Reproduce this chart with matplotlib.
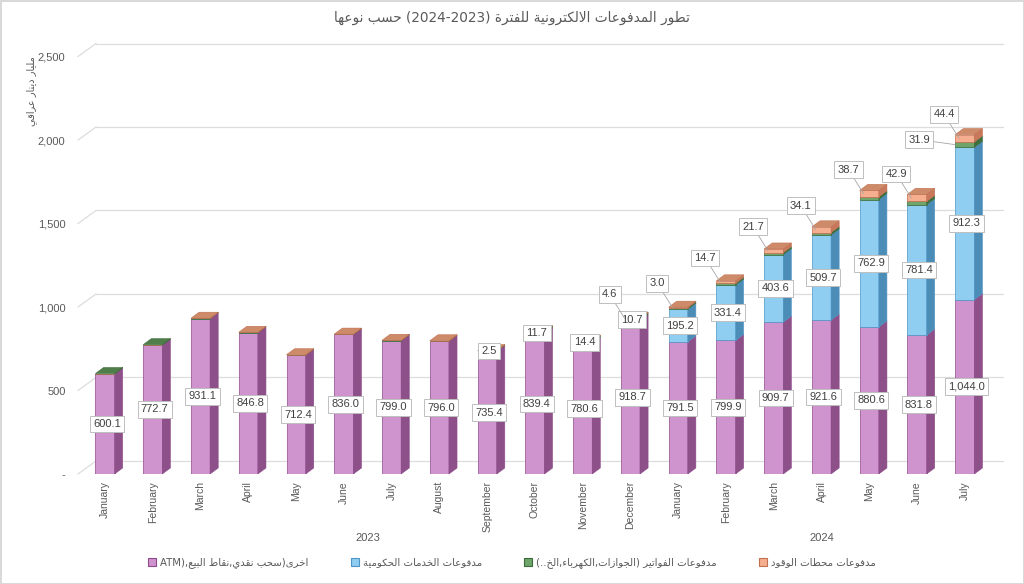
import re

import matplotlib
matplotlib.use("Agg")
import matplotlib.pyplot as plt
import matplotlib.transforms as mtransforms
import numpy as np
from matplotlib.patches import Patch, Polygon

# ---- data (billion IQD) ----
months = ["January", "February", "March", "April", "May", "June", "July",
          "August", "September", "October", "November", "December",
          "January", "February", "March", "April", "May", "June", "July"]
years = ["2023", "2024"]
year_spans = [(0, 11), (12, 18)]

other_atm = [600.1, 772.7, 931.1, 846.8, 712.4, 836.0, 799.0, 796.0, 735.4,
             839.4, 780.6, 918.7, 791.5, 799.9, 909.7, 921.6, 880.6, 831.8, 1044.0]
gov_services = [0.0, 0.0, 0.0, 0.0, 0.0, 0.0, 0.0, 0.0, 0.0, 0.0, 0.0, 0.0,
                195.2, 331.4, 403.6, 509.7, 762.9, 781.4, 912.3]
bills = [1.5, 1.8, 0.8, 0.8, 0.8, 0.8, 0.8, 0.8, 2.5, 11.7, 14.4, 10.7,
         9.2, 10.8, 12.5, 14.9, 16.3, 18.7, 31.9]
fuel = [0.0, 0.0, 1.0, 1.0, 1.0, 1.0, 1.0, 1.0, 1.0, 1.0, 1.0, 4.6,
        3.0, 14.7, 21.7, 34.1, 38.7, 42.9, 44.4]

title = "تطور المدفوعات الالكترونية للفترة (2023-2024) حسب نوعها"
ylabel = "مليار دينار عراقي"
legend_labels = ["اخرى(سحب نقدي,نقاط البيع,ATM)",
                 "مدفوعات الخدمات الحكومية",
                 "مدفوعات الفواتير (الجوازات,الكهرباء,الخ..)",
                 "مدفوعات محطات الوقود"]

# ---- minimal Arabic shaping + visual ordering (mpl has no bidi) ----
FORMS = {  # isolated, final, initial, medial
    "ا": (0xFE8D, 0xFE8E, None, None), "ب": (0xFE8F, 0xFE90, 0xFE91, 0xFE92),
    "ة": (0xFE93, 0xFE94, None, None), "ت": (0xFE95, 0xFE96, 0xFE97, 0xFE98),
    "ج": (0xFE9D, 0xFE9E, 0xFE9F, 0xFEA0), "ح": (0xFEA1, 0xFEA2, 0xFEA3, 0xFEA4),
    "خ": (0xFEA5, 0xFEA6, 0xFEA7, 0xFEA8), "د": (0xFEA9, 0xFEAA, None, None),
    "ر": (0xFEAD, 0xFEAE, None, None), "ز": (0xFEAF, 0xFEB0, None, None),
    "س": (0xFEB1, 0xFEB2, 0xFEB3, 0xFEB4), "ط": (0xFEC1, 0xFEC2, 0xFEC3, 0xFEC4),
    "ع": (0xFEC9, 0xFECA, 0xFECB, 0xFECC), "ف": (0xFED1, 0xFED2, 0xFED3, 0xFED4),
    "ق": (0xFED5, 0xFED6, 0xFED7, 0xFED8), "ك": (0xFED9, 0xFEDA, 0xFEDB, 0xFEDC),
    "ل": (0xFEDD, 0xFEDE, 0xFEDF, 0xFEE0), "م": (0xFEE1, 0xFEE2, 0xFEE3, 0xFEE4),
    "ن": (0xFEE5, 0xFEE6, 0xFEE7, 0xFEE8), "ه": (0xFEE9, 0xFEEA, 0xFEEB, 0xFEEC),
    "و": (0xFEED, 0xFEEE, None, None), "ى": (0xFEEF, 0xFEF0, None, None),
    "ي": (0xFEF1, 0xFEF2, 0xFEF3, 0xFEF4), "ء": (0xFE80, None, None, None),
}


def shape(s):
    toks, i = [], 0
    while i < len(s):
        if s[i] == "ل" and i + 1 < len(s) and s[i + 1] == "ا":
            toks.append("لا")
            i += 2
        else:
            toks.append(s[i])
            i += 1

    def joins_next(t):
        return t in FORMS and FORMS[t][2] is not None

    def joins_prev(t):
        return t == "لا" or (t in FORMS and FORMS[t][1] is not None)

    out = []
    for k, t in enumerate(toks):
        prv = toks[k - 1] if k > 0 else None
        nxt = toks[k + 1] if k + 1 < len(toks) else None
        p = prv is not None and joins_next(prv) and joins_prev(t)
        n = nxt is not None and joins_next(t) and joins_prev(nxt)
        if t == "لا":
            out.append(chr(0xFEFC if p else 0xFEFB))
        elif t in FORMS:
            iso, fin, ini, med = FORMS[t]
            c = med if (p and n) else fin if p else ini if n else iso
            out.append(chr(c))
        else:
            out.append(t)
    return "".join(out)


def ar(s):
    s = shape(s)
    runs = re.findall(r"[A-Za-z]+\)$|[A-Za-z0-9]+|[^A-Za-z0-9]+", s)
    mirror = str.maketrans("()", ")(")
    vis = []
    for r in reversed(runs):
        if re.match(r"[A-Za-z0-9]", r):
            vis.append(r)
        else:
            vis.append(r[::-1].translate(mirror))
    return "".join(vis)


AR_FONT = ["DejaVu Sans"]
TXT = "#595959"

# colours: front, side, top, edge
STYLE = [
    ("#CF93CD", "#8E5089", "#A8679F", "#8D4A8B"),
    ("#8FCDF1", "#4C8DB8", "#6AAFD8", "#4E95C6"),
    ("#6FA56B", "#3E6E3C", "#4F7E4B", "#3C6B3A"),
    ("#F6AE90", "#C8795C", "#CE8B6A", "#C0704F"),
]

series = [np.array(other_atm), np.array(gov_services), np.array(bills), np.array(fuel)]
x = np.arange(len(months))
w = 0.40          # bar front width
ddx, ddy = 0.17, 36   # bar depth (3D look)
gdx, gdy = 0.377, 78  # wall offset for gridlines

fig = plt.figure(figsize=(10.24, 5.84), dpi=100, facecolor="white",
                 edgecolor="#D9D9D9", linewidth=2)
ax = fig.add_axes([78 / 1024, (584 - 474) / 584, 925 / 1024, (474 - 41.5) / 584])
ax.set_xlim(-0.565, 18.8)
ax.set_ylim(0, 2590)
for s in ax.spines.values():
    s.set_visible(False)

# gridlines on the back wall with a slanted floor edge
yt = [0, 500, 1000, 1500, 2000, 2500]
x0, x1 = ax.get_xlim()
for v in yt:
    ax.plot([x0, x0 + gdx], [v, v + gdy], color="#DDDDDD", lw=0.9, clip_on=False, zorder=0)
    ax.plot([x0 + gdx, x1], [v + gdy, v + gdy], color="#DDDDDD", lw=0.9, clip_on=False, zorder=0)

# stacked bars
bottoms = np.zeros(len(x))
seg_bottoms = []
for vals, (front, side, top, edge) in zip(series, STYLE):
    seg_bottoms.append(bottoms.copy())
    ax.bar(x, vals, bottom=bottoms, width=w, color=front, edgecolor=edge,
           linewidth=0.5, zorder=3)
    for xi, b, v in zip(x, bottoms, vals):
        if v <= 0:
            continue
        r = xi + w / 2
        ax.add_patch(Polygon([(r, b), (r + ddx, b + ddy), (r + ddx, b + v + ddy), (r, b + v)],
                             closed=True, facecolor=side, edgecolor=edge, lw=0.4, zorder=3))
    bottoms = bottoms + vals

# top faces use the colour of the uppermost non-empty segment
for i, xi in enumerate(x):
    k = max(j for j in range(4) if series[j][i] > 0)
    t = bottoms[i]
    l, r = xi - w / 2, xi + w / 2
    ax.add_patch(Polygon([(l, t), (l + ddx, t + ddy), (r + ddx, t + ddy), (r, t)],
                         closed=True, facecolor=STYLE[k][2], edgecolor=STYLE[k][3],
                         lw=0.4, zorder=3))

# data labels
box = dict(boxstyle="square,pad=0.3", fc="white", ec="#BFBFBF", lw=0.7)
lab_kw = dict(fontsize=8, color="#404040", ha="center", va="center", zorder=10,
              family=["Liberation Sans"], bbox=box)
centered = {0: range(19), 1: range(12, 19), 2: [8, 9, 10, 11]}
for k, idx in centered.items():
    for i in idx:
        c = seg_bottoms[k][i] + series[k][i] / 2
        ax.text(x[i] + 0.04, c, f"{series[k][i]:,.1f}", **lab_kw)

leader = dict(arrowstyle="-", color="#A6A6A6", lw=0.6, shrinkA=0, shrinkB=0)
for i in range(11, 19):
    c = seg_bottoms[3][i] + fuel[i] / 2
    ax.annotate(f"{fuel[i]:,.1f}", xy=(x[i] - w * 0.3, c), xytext=(-15, 24),
                textcoords="offset pixels", arrowprops=leader, **lab_kw)
c = seg_bottoms[2][18] + bills[18] / 2
ax.annotate(f"{bills[18]:,.1f}", xy=(x[18] - w / 2, c), xytext=(-36, 5),
            textcoords="offset pixels", arrowprops=leader, **lab_kw)

# axes ticks
ax.set_yticks(yt, ["-", "500", "1,000", "1,500", "2,000", "2,500"])
ax.set_xticks(x, months, rotation=90)
ax.tick_params(axis="y", length=0, pad=9, labelsize=8, labelcolor=TXT)
ax.tick_params(axis="x", length=0, pad=5, labelsize=7.5, labelcolor=TXT)
for lbl in ax.get_xticklabels() + ax.get_yticklabels():
    lbl.set_family("Liberation Sans")

trans = mtransforms.blended_transform_factory(ax.transData, ax.transAxes)
for yr, (a, b) in zip(years, year_spans):
    ax.text((a + b) / 2, -0.147, yr, transform=trans, ha="center", va="center",
            fontsize=8, color=TXT, family=["Liberation Sans"])

fig.text(0.5, 1 - 18 / 584, ar(title), ha="center", va="center", fontsize=9.8,
         color=TXT, family=AR_FONT)
fig.text(32 / 1024, 1 - 91 / 584, ar(ylabel), ha="center", va="center", rotation=90,
         fontsize=7, color=TXT, family=AR_FONT)

handles = [Patch(facecolor=st[0], edgecolor=st[3], lw=0.8) for st in STYLE]
fig.legend(handles, [ar(t) for t in legend_labels], loc="center",
           bbox_to_anchor=(0.5, 1 - 563 / 584), ncol=4, frameon=False,
           handlelength=0.75, handleheight=0.75, handletextpad=0.4, columnspacing=4.2,
           prop={"family": AR_FONT, "size": 7.3}, labelcolor=TXT)

fig.savefig("out.png", dpi=100, facecolor="white", edgecolor=fig.get_edgecolor())
